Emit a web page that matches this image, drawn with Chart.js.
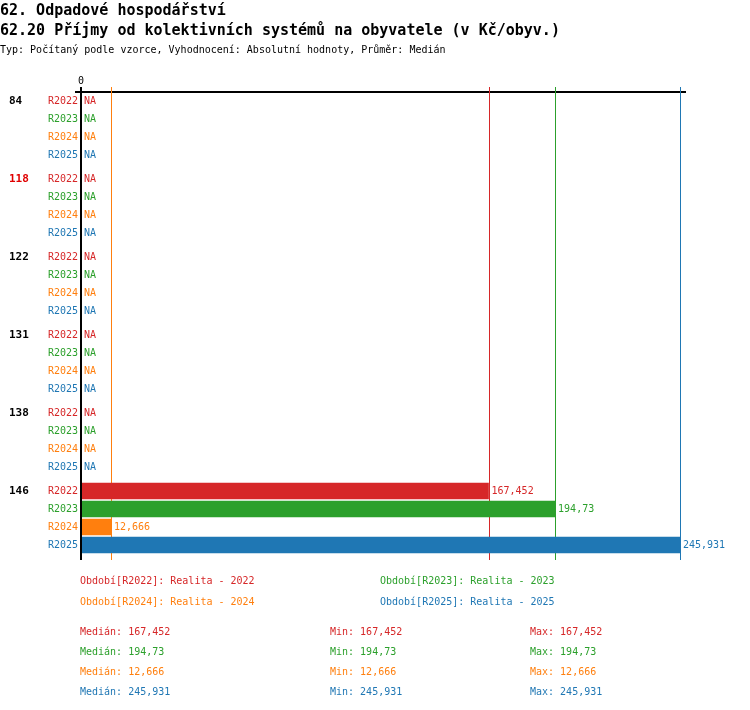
<!DOCTYPE html>
<html>
<head>
<meta charset="utf-8">
<script src="https://cdn.jsdelivr.net/npm/chart.js@4/dist/chart.umd.min.js"></script>
<style>
  body { margin: 0; background: #fff; }
  canvas { display: block; }
</style>
</head>
<body>
<canvas id="graf" width="750" height="710"></canvas>
<script>
// data z obrazku
const skupiny = ['84', '118', '122', '131', '138', '146'];
const barvySkupin = ['#000', '#e00000', '#000', '#000', '#000', '#000'];
const obdobi = ['R2022', 'R2023', 'R2024', 'R2025'];
const nazvyObdobi = ['Realita - 2022', 'Realita - 2023', 'Realita - 2024', 'Realita - 2025'];
const barvy = ['#d62728', '#2ca02c', '#ff7f0e', '#1f77b4'];
const r2022 = [null, null, null, null, null, 167.452];
const r2023 = [null, null, null, null, null, 194.73];
const r2024 = [null, null, null, null, null, 12.666];
const r2025 = [null, null, null, null, null, 245.931];
const hodnoty = [r2022, r2023, r2024, r2025];

const KROK = 13 / 3; // 4 radky + mezera mezi skupinami
const FONT = '"DejaVu Sans Mono", "Liberation Mono", monospace';

const fmt = v => String(v).replace('.', ',');
const median = arr => {
    const s = arr.filter(v => v !== null).sort((a, b) => a - b);
    if (!s.length) return null;
    const m = Math.floor(s.length / 2);
    return s.length % 2 ? s[m] : (s[m - 1] + s[m]) / 2;
};
const nenul = arr => arr.filter(v => v !== null);

const datasets = obdobi.map((o, si) => ({
    label: o,
    data: skupiny.map((g, gi) => ({ y: gi * KROK + si, x: hodnoty[si][gi] })),
    backgroundColor: barvy[si],
    barThickness: 16,
    grouped: false
}));

const popisky = {
    id: 'popisky',
    beforeDatasetsDraw(chart) {
        const ctx = chart.ctx;
        const a = chart.chartArea;
        const x = chart.scales.x;
        ctx.save();
        // horni osa
        ctx.fillStyle = '#000';
        ctx.fillRect(a.left - 5, a.top - 1, a.right - a.left + 5, 2);
        // medianove cary
        hodnoty.forEach((arr, si) => {
            const m = median(arr);
            if (m === null) return;
            const px = Math.round(x.getPixelForValue(m));
            ctx.fillStyle = barvy[si];
            ctx.fillRect(px, a.top - 5, 1, a.bottom - a.top + 5);
        });
        ctx.restore();
    },
    afterDatasetsDraw(chart) {
        const ctx = chart.ctx;
        const a = chart.chartArea;
        const x = chart.scales.x;
        const y = chart.scales.y;
        const x0 = x.getPixelForValue(0) + 1;
        ctx.save();
        // leva osa
        ctx.fillStyle = '#000';
        ctx.fillRect(x0 - 1, a.top - 5, 2, a.bottom - a.top + 5);

        ctx.font = '10px ' + FONT;
        ctx.textAlign = 'center';
        ctx.textBaseline = 'bottom';
        ctx.fillText('0', x0, a.top - 6);

        ctx.textBaseline = 'middle';
        skupiny.forEach((g, gi) => {
            const py0 = y.getPixelForValue(gi * KROK);
            ctx.font = 'bold 11px ' + FONT;
            ctx.fillStyle = barvySkupin[gi];
            ctx.textAlign = 'left';
            ctx.fillText(g, 9, py0);
            obdobi.forEach((o, si) => {
                const py = y.getPixelForValue(gi * KROK + si);
                const v = hodnoty[si][gi];
                ctx.font = '10px ' + FONT;
                ctx.fillStyle = barvy[si];
                ctx.textAlign = 'right';
                ctx.fillText(o, a.left - 2, py);
                ctx.textAlign = 'left';
                if (v === null) {
                    ctx.fillText('NA', a.left + 4, py);
                } else {
                    ctx.fillText(fmt(v), x.getPixelForValue(v) + 3, py);
                }
            });
        });

        // nadpisy
        ctx.fillStyle = '#000';
        ctx.textAlign = 'left';
        ctx.font = 'bold 15px ' + FONT;
        ctx.fillText('62. Odpadové hospodářství', 0, 11);
        ctx.fillText('62.20 Příjmy od kolektivních systémů na obyvatele (v Kč/obyv.)', 0, 31);
        ctx.font = '10px ' + FONT;
        ctx.fillText('Typ: Počítaný podle vzorce, Vyhodnocení: Absolutní hodnoty, Průměr: Medián', 0, 50);

        // legenda
        obdobi.forEach((o, si) => {
            ctx.fillStyle = barvy[si];
            ctx.fillText('Období[' + o + ']: ' + nazvyObdobi[si], si % 2 ? 380 : 80, si < 2 ? 581 : 602);
        });
        // statistiky
        hodnoty.forEach((arr, si) => {
            const s = nenul(arr);
            const py = 632 + si * 20;
            ctx.fillStyle = barvy[si];
            ctx.fillText('Medián: ' + fmt(median(arr)), 80, py);
            ctx.fillText('Min: ' + fmt(Math.min(...s)), 330, py);
            ctx.fillText('Max: ' + fmt(Math.max(...s)), 530, py);
        });
        ctx.restore();
    }
};

new Chart('graf', {
    type: 'bar',
    data: { datasets: datasets },
    options: {
        indexAxis: 'y',
        responsive: false,
        animation: false,
        devicePixelRatio: 1,
        layout: { padding: { left: 80, right: 64, top: 92, bottom: 150 } },
        plugins: {
            legend: { display: false },
            tooltip: { enabled: false }
        },
        scales: {
            x: { type: 'linear', min: 0, max: 248.4, display: false },
            y: { type: 'linear', min: -0.5, max: 5 * KROK + 3 + 5 / 6, reverse: true, offset: false, display: false }
        }
    },
    plugins: [popisky]
});
</script>
</body>
</html>
